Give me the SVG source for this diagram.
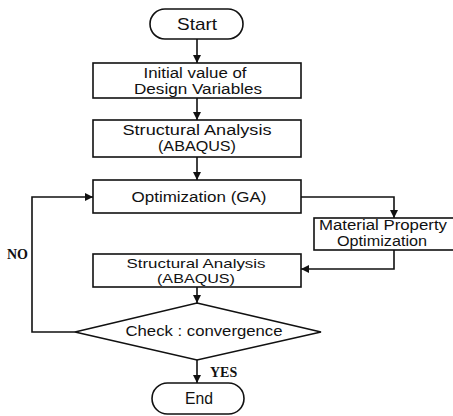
<svg xmlns="http://www.w3.org/2000/svg" width="453" height="416" viewBox="0 0 453 416">
<defs>
<style>
.box{fill:#fff;stroke:#111;stroke-width:1.6}
.ln{fill:none;stroke:#111;stroke-width:1.6}
.t{font-family:"Liberation Sans",Arial,sans-serif;font-size:14px;fill:#111;text-anchor:middle}
.sm{font-size:13.2px}
.big{font-size:17px}
.lbl{font-family:"Liberation Serif","Times New Roman",serif;font-size:14px;font-weight:bold;fill:#111}
</style>
<marker id="ah" viewBox="0 0 10 10" refX="10" refY="5" markerWidth="8" markerHeight="8" markerUnits="userSpaceOnUse" orient="auto">
<path d="M0,0 L10,5 L0,10 z" fill="#111"/>
</marker>
</defs>
<rect width="453" height="416" fill="#fff"/>
<g id="connectors">
<path class="ln" d="M197,39 V63" marker-end="url(#ah)"/>
<path class="ln" d="M197,98 V120" marker-end="url(#ah)"/>
<path class="ln" d="M197,157 V180" marker-end="url(#ah)"/>
<path class="ln" d="M301,197 H394 V218" marker-end="url(#ah)"/>
<path class="ln" d="M394,250 V269 H301" marker-end="url(#ah)"/>
<path class="ln" d="M197,287 V303" marker-end="url(#ah)"/>
<path class="ln" d="M75,332 H32 V197 H93" marker-end="url(#ah)"/>
<path class="ln" d="M197,360 V383" marker-end="url(#ah)"/>
</g>
<g id="start">
<rect class="box" x="150" y="9" width="93" height="30" rx="15" ry="15"/>
<text class="t big" x="197" y="30" textLength="40" lengthAdjust="spacingAndGlyphs">Start</text>
</g>
<g id="init">
<rect class="box" x="93" y="63" width="208" height="35"/>
<text class="t" x="195" y="78" textLength="103" lengthAdjust="spacingAndGlyphs">Initial value of</text>
<text class="t" x="198" y="94" textLength="128" lengthAdjust="spacingAndGlyphs">Design Variables</text>
</g>
<g id="sa1">
<rect class="box" x="93" y="120" width="208" height="37"/>
<text class="t" x="197" y="135" textLength="149" lengthAdjust="spacingAndGlyphs">Structural Analysis</text>
<text class="t" x="197" y="151" textLength="78" lengthAdjust="spacingAndGlyphs">(ABAQUS)</text>
</g>
<g id="opt">
<rect class="box" x="93" y="180" width="208" height="33"/>
<text class="t" x="199" y="202" textLength="135" lengthAdjust="spacingAndGlyphs">Optimization (GA)</text>
</g>
<g id="mat">
<rect class="box" x="314" y="218" width="141" height="32"/>
<text class="t" x="383" y="230" textLength="128" lengthAdjust="spacingAndGlyphs">Material Property</text>
<text class="t" x="382" y="246" textLength="90" lengthAdjust="spacingAndGlyphs">Optimization</text>
</g>
<g id="sa2">
<rect class="box" x="93" y="254" width="208" height="33"/>
<text class="t sm" x="196" y="268" textLength="139" lengthAdjust="spacingAndGlyphs">Structural Analysis</text>
<text class="t sm" x="196" y="283" textLength="78" lengthAdjust="spacingAndGlyphs">(ABAQUS)</text>
</g>
<g id="check">
<path class="box" d="M197,303 L321,332 L197,360 L75,332 Z"/>
<text class="t" x="204" y="336" textLength="157" lengthAdjust="spacingAndGlyphs">Check : convergence</text>
</g>
<g id="end">
<rect class="box" x="152" y="383" width="92" height="31" rx="15.5" ry="15.5"/>
<text class="t big" x="199" y="404" textLength="28" lengthAdjust="spacingAndGlyphs">End</text>
</g>
<g id="labels">
<text class="lbl" x="7" y="259">NO</text>
<text class="lbl" x="210" y="377">YES</text>
</g>
</svg>
